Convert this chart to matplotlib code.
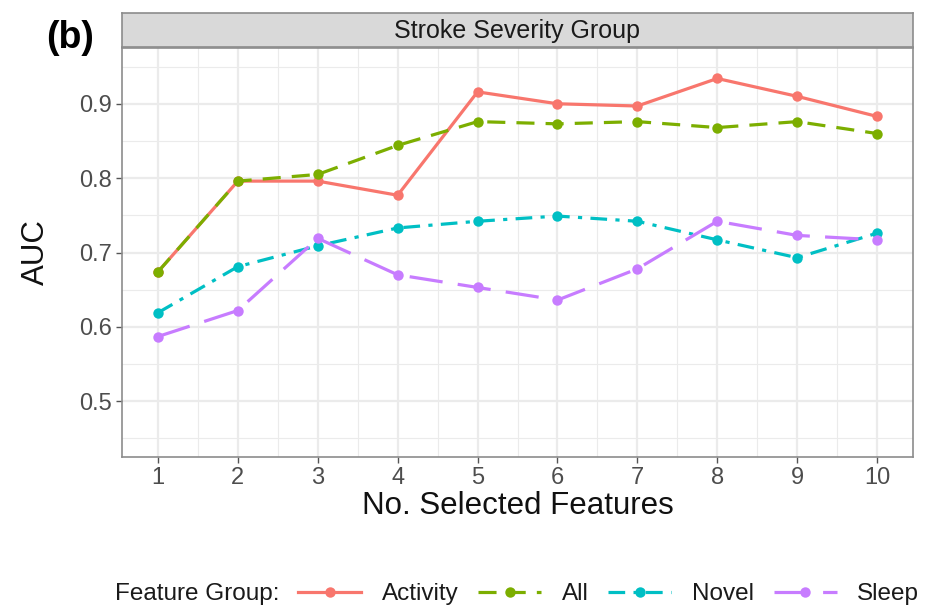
import matplotlib
matplotlib.use("Agg")
import matplotlib.pyplot as plt
from matplotlib.lines import Line2D

plt.rcParams['font.family'] = ['Liberation Sans', 'DejaVu Sans']
plt.rcParams['lines.scale_dashes'] = False

n_features = [1, 2, 3, 4, 5, 6, 7, 8, 9, 10]
activity = [0.674, 0.796, 0.796, 0.777, 0.916, 0.900, 0.897, 0.934, 0.910, 0.883]
all_feats = [0.674, 0.796, 0.805, 0.844, 0.876, 0.873, 0.876, 0.868, 0.876, 0.860]
novel = [0.619, 0.681, 0.709, 0.733, 0.742, 0.749, 0.742, 0.717, 0.693, 0.726]
sleep = [0.587, 0.622, 0.719, 0.670, 0.653, 0.636, 0.678, 0.742, 0.723, 0.717]

group_names = ['Activity', 'All', 'Novel', 'Sleep']
y_ticks = [0.5, 0.6, 0.7, 0.8, 0.9]

series = [activity, all_feats, novel, sleep]
colors = ['#F8766D', '#7CAE00', '#00BFC4', '#C77CFF']
dash_styles = [
    '-',
    (0, (13, 8)),
    (0, (12, 6, 3, 6)),
    (0, (24, 11)),
]

fig = plt.figure(figsize=(9.25, 6.08), dpi=100)
ax = fig.add_axes([122 / 925, 1 - 457 / 608, (913 - 122) / 925, (457 - 48) / 608])

ax.set_xlim(0.55, 10.45)
ax.set_ylim(0.425, 0.975)

grid_col = '#EBEBEB'
for y in [0.45, 0.55, 0.65, 0.75, 0.85, 0.95]:
    ax.axhline(y, color=grid_col, lw=0.8, zorder=0)
for y in y_ticks:
    ax.axhline(y, color=grid_col, lw=1.6, zorder=0)
for x in [1.5 + i for i in range(9)]:
    ax.axvline(x, color=grid_col, lw=0.8, zorder=0)
for x in n_features:
    ax.axvline(x, color=grid_col, lw=1.6, zorder=0)

handles = []
for vals, col, ls, name in zip(series, colors, dash_styles, group_names):
    ax.plot(n_features, vals, color=col, lw=2.3, linestyle=ls,
            marker='o', markersize=7.5, markeredgewidth=0, zorder=3)
    handles.append(Line2D([0], [0], color=col, lw=2.3, linestyle=ls,
                          marker='o', markersize=7.5, markeredgewidth=0, label=name))

ax.set_xticks(n_features)
ax.set_xticklabels([str(v) for v in n_features])
ax.set_yticks(y_ticks)
ax.set_yticklabels([f'{v:.1f}' for v in y_ticks])
ax.tick_params(axis='both', colors='#555555', labelcolor='#4D4D4D',
               labelsize=17, length=4, width=1.0, pad=3)

for sp in ax.spines.values():
    sp.set_color('#8C8C8C')
    sp.set_linewidth(1.2)

ax.set_xlabel('No. Selected Features', fontsize=22.5, color='#111111', labelpad=2)
ax.set_ylabel('AUC', fontsize=22.5, color='#111111')
ax.yaxis.set_label_coords((51 - 122) / 791, 0.5)

# facet strip
strip = fig.add_axes([122 / 925, 1 - 47 / 608, (913 - 122) / 925, (47 - 13) / 608])
strip.set_xticks([])
strip.set_yticks([])
strip.set_facecolor('#D9D9D9')
for sp in strip.spines.values():
    sp.set_color('#8C8C8C')
    sp.set_linewidth(1.2)
strip.text(0.5, 0.47, 'Stroke Severity Group', ha='center', va='center',
           fontsize=18, color='#1A1A1A', transform=strip.transAxes)

fig.text(46 / 925, 1 - 38 / 608, '(b)', fontsize=27, fontweight='bold',
         ha='left', va='center')

fig.text(115 / 925, 1 - 594 / 608, 'Feature Group:', fontsize=17.5,
         color='#1A1A1A', ha='left', va='center')
leg = fig.legend(handles=handles, loc='center left',
                 bbox_to_anchor=(298 / 925, 1 - 594 / 608),
                 ncol=4, frameon=False, fontsize=17.5, handlelength=2.6,
                 handletextpad=0.85, columnspacing=0.8, borderaxespad=0, borderpad=0)
for t in leg.get_texts():
    t.set_color('#1A1A1A')

fig.savefig('out.png', dpi=100)
